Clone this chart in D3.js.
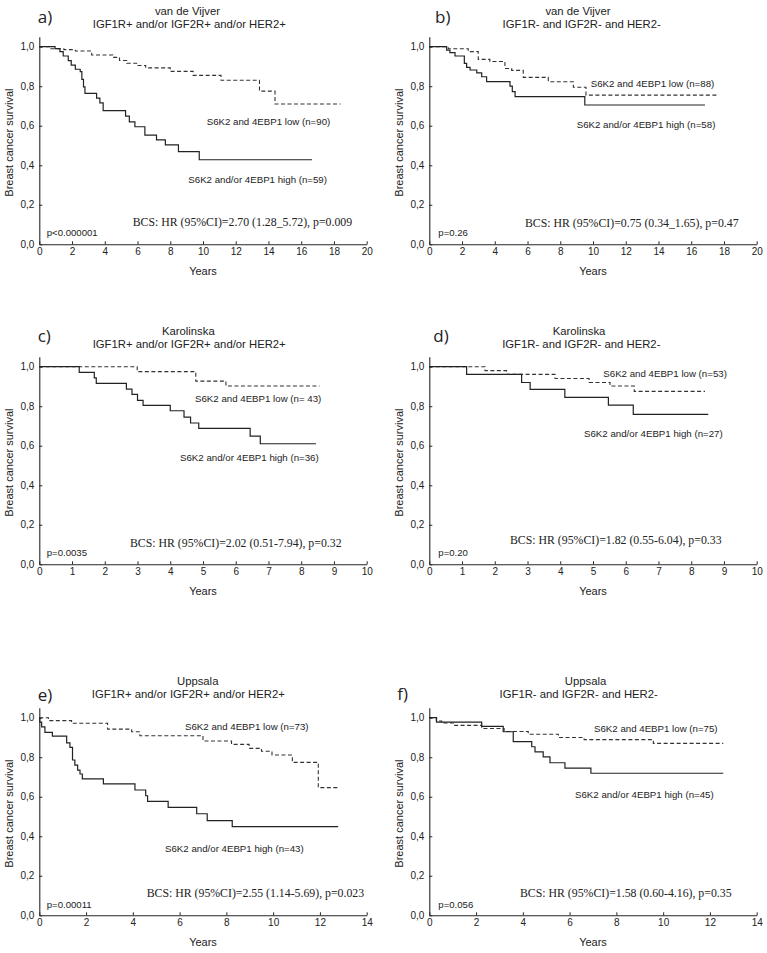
<!DOCTYPE html>
<html>
<head>
<meta charset="utf-8">
<script src="https://cdn.jsdelivr.net/npm/d3@7"></script>
<style>
  body { margin: 0; background: #fff; }
  svg { display: block; }
  text { fill: #222; }
</style>
</head>
<body>
<svg id="chart" width="767" height="953"></svg>
<script>
// ---------- DATA (time in years, survival fraction) ----------
const yTicks = [0, 0.2, 0.4, 0.6, 0.8, 1.0];
const panelLetters = ["a)", "b)", "c)", "d)", "e)", "f)"];
const cohorts = ["van de Vijver", "van de Vijver", "Karolinska", "Karolinska", "Uppsala", "Uppsala"];
const subgroups = ["IGF1R+ and/or IGF2R+ and/or HER2+", "IGF1R- and IGF2R- and HER2-",
                   "IGF1R+ and/or IGF2R+ and/or HER2+", "IGF1R- and IGF2R- and HER2-",
                   "IGF1R+ and/or IGF2R+ and/or HER2+", "IGF1R- and IGF2R- and HER2-"];
const xMax = [20, 20, 10, 10, 14, 14];
const xStep = [2, 2, 1, 1, 2, 2];
const lowLabels = ["S6K2 and 4EBP1 low (n=90)", "S6K2 and 4EBP1 low (n=88)", "S6K2 and 4EBP1 low (n= 43)",
                   "S6K2 and 4EBP1 low (n=53)", "S6K2 and 4EBP1 low (n=73)", "S6K2 and 4EBP1 low (n=75)"];
const highLabels = ["S6K2 and/or 4EBP1 high (n=59)", "S6K2 and/or 4EBP1 high (n=58)", "S6K2 and/or 4EBP1 high (n=36)",
                    "S6K2 and/or 4EBP1 high (n=27)", "S6K2 and/or 4EBP1 high (n=43)", "S6K2 and/or 4EBP1 high (n=45)"];
const hrLabels = ["BCS: HR (95%CI)=2.70 (1.28_5.72), p=0.009", "BCS: HR (95%CI)=0.75 (0.34_1.65), p=0.47",
                  "BCS: HR (95%CI)=2.02 (0.51-7.94), p=0.32", "BCS: HR (95%CI)=1.82 (0.55-6.04), p=0.33",
                  "BCS: HR (95%CI)=2.55 (1.14-5.69), p=0.023", "BCS: HR (95%CI)=1.58 (0.60-4.16), p=0.35"];
const pLabels = ["p<0.000001", "p=0.26", "p=0.0035", "p=0.20", "p=0.00011", "p=0.056"];

// Panel a
const aLowT = [0, 0.65, 1.5, 2.2, 3.2, 4.5, 4.9, 5.35, 6.0, 6.5, 8.0, 9.4, 11.1, 13.45, 14.4];
const aLowS = [1.0, 0.99, 0.985, 0.978, 0.958, 0.946, 0.93, 0.916, 0.905, 0.893, 0.875, 0.855, 0.83, 0.775, 0.71];
const aLowEnd = 18.4;
const aHighT = [0, 0.96, 1.26, 1.46, 1.77, 1.95, 2.2, 2.5, 2.6, 2.7, 2.79, 3.5, 3.7, 3.9, 5.27, 5.5, 5.84, 6.45, 7.16, 7.7, 8.5, 9.77];
const aHighS = [1.0, 0.99, 0.975, 0.953, 0.93, 0.907, 0.886, 0.874, 0.835, 0.797, 0.764, 0.74, 0.716, 0.676, 0.649, 0.62, 0.595, 0.553, 0.528, 0.503, 0.469, 0.428];
const aHighEnd = 16.66;
// Panel b
const bLowT = [0, 1.16, 2.38, 2.99, 3.7, 4.62, 5.03, 5.74, 7.27, 8.8, 9.57];
const bLowS = [1.0, 0.99, 0.975, 0.936, 0.925, 0.89, 0.88, 0.845, 0.823, 0.795, 0.755];
const bLowEnd = 17.66;
const bHighT = [0, 1.06, 1.26, 1.57, 2.14, 2.28, 2.49, 2.9, 3.2, 3.5, 4.93, 5.07, 5.24, 9.5];
const bHighS = [1.0, 0.983, 0.97, 0.953, 0.916, 0.895, 0.882, 0.868, 0.848, 0.823, 0.8, 0.773, 0.747, 0.705];
const bHighEnd = 16.84;
// Panel c
const cLowT = [0, 2.99, 4.78, 5.7];
const cLowS = [1.0, 0.975, 0.927, 0.902];
const cLowEnd = 8.56;
const cHighT = [0, 1.22, 1.68, 1.74, 2.66, 2.83, 3.0, 3.17, 4.0, 4.42, 4.62, 4.87, 6.44, 6.75];
const cHighS = [1.0, 0.971, 0.943, 0.916, 0.887, 0.86, 0.83, 0.804, 0.777, 0.745, 0.715, 0.688, 0.649, 0.61];
const cHighEnd = 8.45;
// Panel d
const dLowT = [0, 1.7, 2.36, 3.84, 4.88, 5.52, 6.26];
const dLowS = [1.0, 0.98, 0.961, 0.94, 0.92, 0.902, 0.875];
const dLowEnd = 8.42;
const dHighT = [0, 1.14, 2.82, 3.08, 4.14, 5.47, 6.23];
const dHighS = [1.0, 0.961, 0.92, 0.885, 0.845, 0.806, 0.759];
const dHighEnd = 8.52;
// Panel e
const eLowT = [0, 0.39, 1.38, 2.92, 3.95, 4.3, 7.0, 8.22, 8.97, 9.5, 9.95, 10.82, 11.93];
const eLowS = [1.0, 0.985, 0.972, 0.942, 0.929, 0.909, 0.882, 0.865, 0.845, 0.83, 0.811, 0.774, 0.646];
const eLowEnd = 12.78;
const eHighT = [0, 0.02, 0.1, 0.24, 0.56, 1.17, 1.31, 1.42, 1.52, 1.64, 1.74, 1.84, 2.74, 4.09, 4.55, 4.63, 5.51, 6.73, 7.18, 8.25];
const eHighS = [1.0, 0.978, 0.954, 0.926, 0.907, 0.873, 0.85, 0.786, 0.76, 0.735, 0.715, 0.69, 0.665, 0.634, 0.605, 0.577, 0.546, 0.514, 0.479, 0.449];
const eHighEnd = 12.78;
// Panel f
const fLowT = [0, 0.3, 0.53, 1.03, 2.24, 3.2, 4.23, 5.52, 6.62, 9.58];
const fLowS = [1.0, 0.983, 0.973, 0.961, 0.945, 0.93, 0.916, 0.9, 0.889, 0.87];
const fLowEnd = 12.57;
const fHighT = [0, 0.31, 2.24, 3.16, 3.59, 4.38, 4.52, 4.87, 5.16, 5.8, 6.91];
const fHighS = [1.0, 0.978, 0.956, 0.929, 0.879, 0.853, 0.827, 0.802, 0.772, 0.745, 0.719];
const fHighEnd = 12.57;

const lowT = [aLowT, bLowT, cLowT, dLowT, eLowT, fLowT];
const lowS = [aLowS, bLowS, cLowS, dLowS, eLowS, fLowS];
const lowEnd = [aLowEnd, bLowEnd, cLowEnd, dLowEnd, eLowEnd, fLowEnd];
const highT = [aHighT, bHighT, cHighT, dHighT, eHighT, fHighT];
const highS = [aHighS, bHighS, cHighS, dHighS, eHighS, fHighS];
const highEnd = [aHighEnd, bHighEnd, cHighEnd, dHighEnd, eHighEnd, fHighEnd];

// ---------- LAYOUT ----------
const plotW = 327.4, unitH = 197.6, yTop = 1.05;
const layout = [
  { x0: 39.3,  y0: 244.3, letter: [37.7, -24],  t1: 148.2, t2: 150.0, ty: [-31.7, -18.4],
    low: [167.4, -119], high: [149, -61.6], hr: [93.4, -18.3], p: [7.4, -8.6] },
  { x0: 429.3, y0: 244.3, letter: [5.7, -24],   t1: 148.7, t2: 152.4, ty: [-31.7, -18.4],
    low: [161.4, -157], high: [147.4, -116], hr: [95.7, -17.6], p: [9, -8.3] },
  { x0: 39.3,  y0: 564.3, letter: [-1.6, -25],  t1: 149.0, t2: 149.9, ty: [-31.7, -18.4],
    low: [155.7, -162.6], high: [140.7, -103.6], hr: [90.7, -17.6], p: [7.4, -8.3] },
  { x0: 429.3, y0: 564.3, letter: [4.0, -25],   t1: 149.7, t2: 152.0, ty: [-31.7, -18.4],
    low: [174, -187.6], high: [154.7, -127], hr: [80.7, -20.3], p: [9, -8.3] },
  { x0: 39.3,  y0: 915.3, letter: [-1.6, -17],  t1: 158.4, t2: 149.0, ty: [-32.7, -19.4],
    low: [145.7, -185.3], high: [125.7, -63.6], hr: [107.4, -18.6], p: [7.4, -7] },
  { x0: 429.3, y0: 915.3, letter: [-32.0, -17.7], t1: 156.2, t2: 149.4, ty: [-32.7, -19.4],
    low: [164.7, -183.6], high: [145.7, -117], hr: [90.7, -18], p: [9, -7] }
];
// letter x offsets above are relative to x0 (except stored with x0 added below)
layout[0].letter[0] = -1.6; layout[1].letter[0] = 5.7;

const svg = d3.select("#chart");
const sans = "'Liberation Sans', Arial, sans-serif";
const serif = "'Liberation Serif', 'Times New Roman', serif";
const ink = "#262626";
const fmtY = v => d3.format(".1f")(v).replace(".", ",");

layout.forEach((L, i) => {
  const x = d3.scaleLinear().domain([0, xMax[i]]).range([L.x0, L.x0 + plotW]);
  const y = d3.scaleLinear().domain([0, yTop]).range([L.y0, L.y0 - yTop * unitH]);
  const g = svg.append("g");
  const yOne = y(1);

  // axes
  const xa = d3.axisBottom(x).tickValues(d3.range(0, xMax[i] + 0.001, xStep[i]))
    .tickSizeInner(-3).tickSizeOuter(0).tickPadding(4).tickFormat(d3.format("d"));
  const gx = g.append("g").attr("transform", `translate(0,${L.y0})`).call(xa);
  const ya = d3.axisLeft(y).tickValues(yTicks).tickSizeInner(-3).tickSizeOuter(0).tickPadding(5).tickFormat(fmtY);
  const gy = g.append("g").attr("transform", `translate(${L.x0},0)`).call(ya);
  [gx, gy].forEach(a => {
    a.selectAll("path.domain").attr("stroke", ink).attr("stroke-width", 1.1);
    a.selectAll(".tick line").attr("stroke", ink);
    a.selectAll(".tick text").attr("font-family", sans).attr("font-size", 10).attr("fill", "#222");
  });

  // curves
  const line = d3.line().x(d => x(d[0])).y(d => y(d[1])).curve(d3.curveStepAfter);
  const mk = (T, S, end) => { const pts = T.map((t, k) => [t, S[k]]); pts.push([end, S[S.length - 1]]); return pts; };
  g.append("path").datum(mk(lowT[i], lowS[i], lowEnd[i])).attr("d", line)
    .attr("fill", "none").attr("stroke", "#333").attr("stroke-width", 1.1).attr("stroke-dasharray", "4,2.5");
  g.append("path").datum(mk(highT[i], highS[i], highEnd[i])).attr("d", line)
    .attr("fill", "none").attr("stroke", "#222").attr("stroke-width", 1.2);

  // titles
  g.append("text").attr("x", L.x0 + L.letter[0]).attr("y", yOne + L.letter[1])
    .attr("font-family", "'Open Sans', 'Liberation Sans', sans-serif").attr("font-size", 17).text(panelLetters[i]);
  g.append("text").attr("x", L.x0 + L.t1).attr("y", yOne + L.ty[0]).attr("text-anchor", "middle")
    .attr("font-family", sans).attr("font-size", 11.3).text(cohorts[i]);
  g.append("text").attr("x", L.x0 + L.t2).attr("y", yOne + L.ty[1]).attr("text-anchor", "middle")
    .attr("font-family", sans).attr("font-size", 11.3).text(subgroups[i]);

  // axis labels
  g.append("text").attr("transform", `translate(${L.x0 - 26},${(L.y0 + y(yTop)) / 2 + 2}) rotate(-90)`)
    .attr("text-anchor", "middle").attr("font-family", sans).attr("font-size", 11).text("Breast cancer survival");
  g.append("text").attr("x", L.x0 + plotW / 2).attr("y", L.y0 + 31).attr("text-anchor", "middle")
    .attr("font-family", sans).attr("font-size", 11).text("Years");

  // annotations
  g.append("text").attr("x", L.x0 + L.low[0]).attr("y", L.y0 + L.low[1])
    .attr("font-family", sans).attr("font-size", 9.7).text(lowLabels[i]);
  g.append("text").attr("x", L.x0 + L.high[0]).attr("y", L.y0 + L.high[1])
    .attr("font-family", sans).attr("font-size", 9.7).text(highLabels[i]);
  g.append("text").attr("x", L.x0 + L.hr[0]).attr("y", L.y0 + L.hr[1])
    .attr("font-family", serif).attr("font-size", 11.8).text(hrLabels[i]);
  g.append("text").attr("x", L.x0 + L.p[0]).attr("y", L.y0 + L.p[1])
    .attr("font-family", sans).attr("font-size", 9.6).text(pLabels[i]);
});
</script>
</body>
</html>
